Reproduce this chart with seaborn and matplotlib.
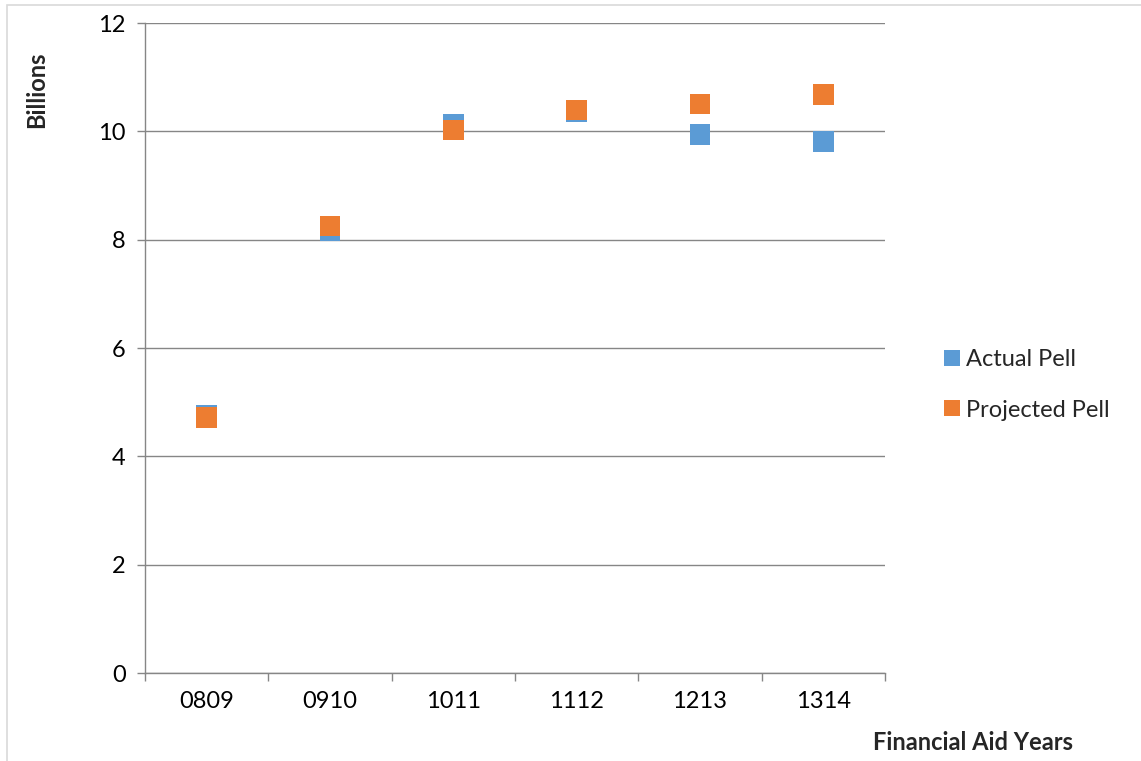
import matplotlib
matplotlib.use("Agg")
import matplotlib.pyplot as plt
import matplotlib.patches as mpatches
from matplotlib.ticker import FixedLocator, NullFormatter
import seaborn as sns
import pandas as pd

years = ["0809", "0910", "1011", "1112", "1213", "1314"]
actual_pell = [4.76, 8.16, 10.13, 10.36, 9.94, 9.81]
projected_pell = [4.72, 8.25, 10.02, 10.39, 10.51, 10.68]
series_names = ["Actual Pell", "Projected Pell"]
colors = ["#5B9BD5", "#ED7D31"]
y_ticks = [0, 2, 4, 6, 8, 10, 12]

df = pd.DataFrame({
    "Year": years * 2,
    "Value": actual_pell + projected_pell,
    "Series": [series_names[0]] * len(years) + [series_names[1]] * len(years),
})
df["pos"] = df["Year"].map({y: i for i, y in enumerate(years)})

sns.set_theme(style="white")
plt.rcParams["font.family"] = ["Lato", "DejaVu Sans"]
plt.rcParams["xtick.bottom"] = True
plt.rcParams["ytick.left"] = True

W, H = 1141, 761
fig = plt.figure(figsize=(W / 100, H / 100), dpi=100)
ax = fig.add_axes([145 / W, 1 - 673 / H, 740 / W, 650 / H])

sns.scatterplot(data=df, x="pos", y="Value", hue="Series", palette=colors,
                marker="s", s=215, linewidth=0, ax=ax, legend=True, zorder=3)

ax.set_xlim(-0.5, len(years) - 0.5)
ax.set_ylim(0, 12)
ax.set_yticks(y_ticks)
ax.set_yticklabels([str(t) for t in y_ticks], fontsize=17, color="#000000")

ax.xaxis.set_major_locator(FixedLocator([i - 0.5 for i in range(len(years) + 1)]))
ax.xaxis.set_major_formatter(NullFormatter())
ax.xaxis.set_minor_locator(FixedLocator(list(range(len(years)))))
ax.set_xticklabels(years, minor=True, fontsize=17, color="#000000")
ax.tick_params(axis="x", which="minor", bottom=True, length=0, pad=13)
ax.tick_params(axis="x", which="major", bottom=True, length=6, width=1, color="#868686", direction="out")
ax.tick_params(axis="y", which="major", left=True, length=6, width=1, color="#868686", direction="out", pad=8)

ax.yaxis.grid(True, color="#868686", linewidth=1)
ax.xaxis.grid(False)
ax.set_axisbelow(True)
for side in ["top", "right"]:
    ax.spines[side].set_visible(False)
for side in ["left", "bottom"]:
    ax.spines[side].set_color("#868686")
    ax.spines[side].set_linewidth(1)

ax.set_xlabel("Financial Aid Years", fontsize=17, fontweight="bold")
ax.xaxis.set_label_coords((973 - 145) / 740, (673 - 731) / 650)
ax.set_ylabel("Billions", fontsize=17, fontweight="bold")
ax.yaxis.set_label_coords((48 - 145) / 740, (673 - 90) / 650)

handles, labels = ax.get_legend_handles_labels()
ax.legend(handles=handles, labels=labels, loc="center left",
          bbox_to_anchor=(931 / W, 1 - 385 / H), bbox_transform=fig.transFigure,
          frameon=False, fontsize=17, labelspacing=1.25, handletextpad=0.1,
          handlelength=1.0, markerscale=0.8, borderaxespad=0)

border = mpatches.Rectangle((7 / W, -0.05), 1.2, 1.05 - 5 / H, transform=fig.transFigure,
                            fill=False, edgecolor="#D9D9D9", linewidth=1.2)
fig.patches.append(border)

fig.savefig("out.png", dpi=100)
